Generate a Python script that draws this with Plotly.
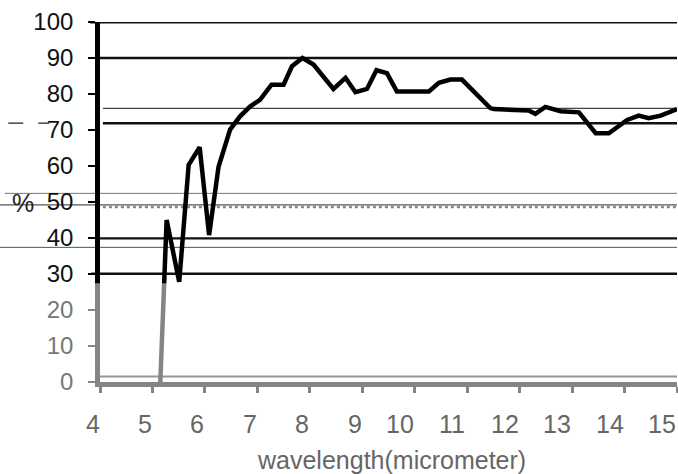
import plotly.graph_objects as go

# ---- data ----
wavelength = [5.15, 5.27, 5.51, 5.69, 5.90, 6.08, 6.26, 6.48, 6.67, 6.86, 7.05,
              7.27, 7.50, 7.66, 7.86, 8.07, 8.45, 8.68, 8.87, 9.09, 9.27, 9.47,
              9.66, 10.27, 10.46, 10.68, 10.90, 11.44, 11.51, 12.17, 12.30, 12.49,
              12.78, 13.13, 13.45, 13.70, 14.05, 14.27, 14.46, 14.69, 15.0]
percent = [0.0, 45.0, 27.8, 60.3, 65.2, 40.8, 59.8, 70.1, 73.8, 76.5, 78.4,
           82.6, 82.6, 87.7, 90.0, 88.2, 81.4, 84.5, 80.5, 81.4, 86.6, 85.8,
           80.7, 80.7, 83.1, 84.0, 84.0, 76.1, 75.8, 75.4, 74.5, 76.4,
           75.2, 74.9, 69.1, 69.1, 72.8, 74.0, 73.3, 74.0, 75.8]

x_ticks = [4, 5, 6, 7, 8, 9, 10, 11, 12, 13, 14, 15]
y_ticks = [0, 10, 20, 30, 40, 50, 60, 70, 80, 90, 100]

# horizontal scan lines (values in %)
scan_lines = [100.0, 90.0, 76.0, 71.9, 52.4, 49.2, 48.6, 39.9, 37.4, 30.1, 1.5]
scan_fade_level = 27.4   # below this level the scan is grey

# ---- styles ----
line_style = {
    100.0: dict(color="#111", width=3, x0=-0.017),
    90.0: dict(color="#111", width=2.7, x0=0.0),
    76.0: dict(color="#444", width=1.3, x0=0.005),
    71.9: dict(color="#111", width=2.5, x0=0.005),
    52.4: dict(color="#777", width=1, x0=-0.165),
    49.2: dict(color="#555", width=1.2, x0=-0.175),
    48.6: dict(color="#888", width=2.5, x0=0.005, dash="dot"),
    39.9: dict(color="#111", width=2.2, x0=0.0),
    37.4: dict(color="#555", width=1, x0=-0.175),
    30.1: dict(color="#111", width=2.5, x0=-0.015),
    1.5: dict(color="#222", width=2, x0=0.0),
}

fig = go.Figure()
fig.add_trace(go.Scatter(x=wavelength, y=percent, mode="lines",
                         line=dict(color="#000", width=4.5), hoverinfo="skip",
                         showlegend=False, cliponaxis=False))

shapes = []
for v in scan_lines:
    st = line_style[v]
    shapes.append(dict(type="line", xref="paper", yref="y", x0=st["x0"], x1=1.0,
                       y0=v, y1=v, layer="below",
                       line=dict(color=st["color"], width=st["width"],
                                 dash=st.get("dash", "solid"))))
# small dash fragments at left near 70
for a, b in [(-0.159, -0.133), (-0.107, -0.088)]:
    shapes.append(dict(type="line", xref="paper", yref="y", x0=a, x1=b,
                       y0=71.9, y1=71.9, line=dict(color="#444", width=1.5)))
# grey fade of the lower part of the scan
shapes.append(dict(type="rect", xref="paper", yref="paper", x0=-0.022, x1=1.01,
                   y0=-0.035, y1=scan_fade_level / 100, layer="above",
                   line=dict(width=0), fillcolor="rgba(255,255,255,0.52)"))

def ylab(v):
    col = "#777" if v < 30 else "#111"
    return f"<span style='color:{col}'>{v}</span>"

annotations = [
    dict(text="wavelength(micrometer)", xref="paper", yref="paper", x=0.506, y=-0.217,
         showarrow=False, xanchor="center", yanchor="middle",
         font=dict(size=25, color="#666")),
    dict(text="%", xref="paper", yref="paper", x=-0.133, y=0.497,
         showarrow=False, xanchor="center", yanchor="middle",
         font=dict(size=25, color="#222")),
]
for t in x_ticks:
    annotations.append(dict(text=str(t), xref="x", yref="paper", x=t, y=-0.118,
                            xshift=-7.5 if t < 10 else -15,
                            showarrow=False, xanchor="center", yanchor="middle",
                            font=dict(size=25, color="#666")))

fig.update_layout(
    width=678, height=474,
    margin=dict(l=100, r=1, t=22, b=92),
    paper_bgcolor="white", plot_bgcolor="white",
    font=dict(family="Liberation Sans, Arial, sans-serif", size=24, color="#111"),
    shapes=shapes,
    xaxis=dict(range=[4, 15], tickvals=x_ticks, showticklabels=False, automargin=False,
               showgrid=False, zeroline=False, showline=True, linecolor="#000",
               linewidth=4.7, ticks="outside", ticklen=6, tickwidth=3, tickcolor="#000"),
    yaxis=dict(range=[0, 100], tickvals=y_ticks, ticktext=[ylab(t) for t in y_ticks],
               automargin=False,
               showgrid=False, zeroline=False, showline=True, linecolor="#000",
               linewidth=4.7, ticks="outside", ticklen=7, tickwidth=2, tickcolor="#000",
               tickfont=dict(size=24), ticklabelstandoff=10),
    annotations=annotations,
)

fig.write_html("out.html", config={"displayModeBar": False},
               post_script="document.body.style.margin='0px';"
                           "document.documentElement.style.overflow='hidden';")
